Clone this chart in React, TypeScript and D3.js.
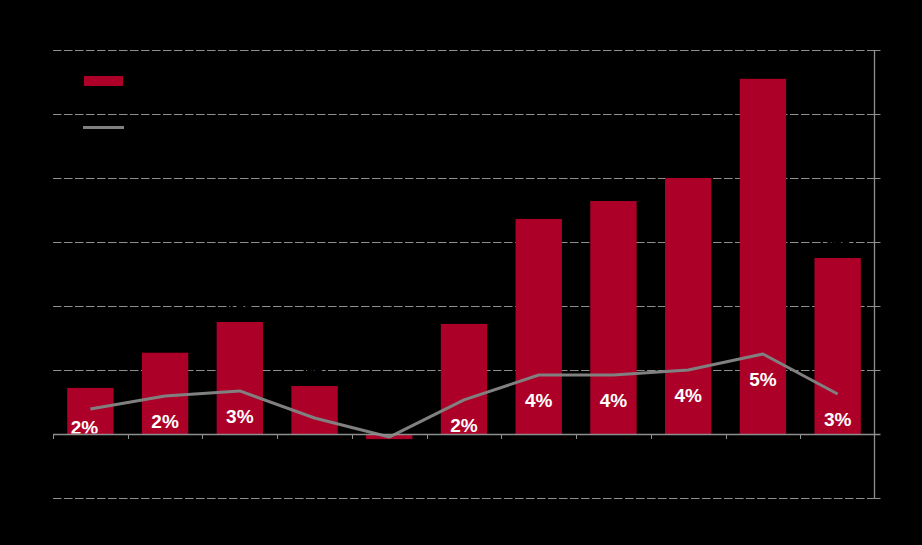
import React from "react";
import * as d3 from "d3";

const categories = ["1", "2", "3", "4", "5", "6", "7", "8", "9", "10", "11"];
const barValues = [72, 127, 175, 75, -8, 172, 336, 364, 400, 555, 275];
const lineValues = [1.56, 2.38, 2.69, 1.0, -0.19, 2.13, 3.69, 3.69, 4.0, 5.0, 2.5];
const lineLabels = ["2%", "2%", "3%", "", "", "2%", "4%", "4%", "4%", "5%", "3%"];
const leftTicks = [-100, 0, 100, 200, 300, 400, 500, 600];

const W = 922;
const H = 545;
const M = { left: 53, right: 47, top: 50, bottom: 47 };
const RED = "#ad0029";
const GRID = "#8f8f8f";
const LINE = "#808080";

export default function App() {
  const x = d3
    .scaleBand<string>()
    .domain(categories)
    .range([M.left, W - M.right])
    .paddingInner(0.38)
    .paddingOuter(0.19);
  const step = x.step();
  const bandStart = (c: string) => (x(c) as number) - step * 0.19;
  const y = d3.scaleLinear().domain([-100, 600]).range([H - M.bottom, M.top]);
  const yR = d3.scaleLinear().domain([-4, 24]).range([H - M.bottom, M.top]);
  const y0 = y(0);
  const rightX = W - M.right - 0.5;
  const cx = (c: string) => (x(c) as number) + x.bandwidth() / 2;

  const linePath = d3
    .line<number>()
    .x((_, i) => cx(categories[i]))
    .y((d) => yR(d))(lineValues) as string;

  return (
    <svg
      width={W}
      height={H}
      style={{ position: "absolute", left: 0, top: 0, display: "block" }}
    >
      <defs>
        <clipPath id="aboveZero">
          <rect x={M.left} y={M.top} width={W - M.left - M.right} height={y0 - M.top - 0.5} />
        </clipPath>
      </defs>
      <rect x={0} y={0} width={W} height={H} fill="#000" />
      {leftTicks.map((t) =>
        t === 0 ? null : (
          <g key={t}>
            <line
              x1={M.left}
              x2={rightX}
              y1={Math.round(y(t)) + 0.5}
              y2={Math.round(y(t)) + 0.5}
              stroke={GRID}
              strokeWidth={1}
              strokeDasharray="8.5,2.5"
            />
            <line
              x1={rightX}
              x2={rightX + 6}
              y1={Math.round(y(t)) + 0.5}
              y2={Math.round(y(t)) + 0.5}
              stroke={GRID}
              strokeWidth={1}
            />
            <text
              x={M.left - 6}
              y={y(t) + 4}
              textAnchor="end"
              fontSize={12}
              fontFamily="Liberation Sans, Arial, sans-serif"
              fill="#000"
            >
              {t}
            </text>
          </g>
        )
      )}
      {categories.map((c, i) => {
        const v = barValues[i];
        const top = Math.min(y(v), y0);
        const h = Math.abs(y(v) - y0);
        return (
          <rect
            key={c}
            x={x(c)}
            y={top}
            width={x.bandwidth()}
            height={h}
            fill={RED}
          />
        );
      })}
      {categories.map((c, i) => {
        const v = barValues[i];
        return (
          <text
            key={"bl" + c}
            x={cx(c)}
            y={Math.min(y(v), y0) - 6}
            textAnchor="middle"
            fontSize={15}
            fontWeight="bold"
            fontFamily="Liberation Sans, Arial, sans-serif"
            fill="#000"
          >
            {v}
          </text>
        );
      })}
      <path d={linePath} fill="none" stroke={LINE} strokeWidth={3} strokeLinejoin="round" />
      <g clipPath="url(#aboveZero)">
        {categories.map((c, i) =>
          lineLabels[i] ? (
            <text
              key={"lab" + c}
              x={cx(c) - (yR(lineValues[i]) + 32 > y0 ? 6 : 0)}
              y={Math.min(yR(lineValues[i]) + 32, y0)}
              textAnchor="middle"
              fontSize={19}
              fontWeight="bold"
              fontFamily="Liberation Sans, Arial, sans-serif"
              fill="#fff"
            >
              {lineLabels[i]}
            </text>
          ) : null
        )}
      </g>
      {/* zero axis */}
      <line
        x1={M.left}
        x2={rightX + 6}
        y1={Math.round(y0) + 0.5}
        y2={Math.round(y0) + 0.5}
        stroke={GRID}
        strokeWidth={1.3}
      />
      {categories.map((c) => (
        <line
          key={"t" + c}
          x1={Math.round(bandStart(c)) + 0.5}
          x2={Math.round(bandStart(c)) + 0.5}
          y1={y0}
          y2={y0 + 5}
          stroke={GRID}
          strokeWidth={1}
        />
      ))}
      {/* right axis */}
      <line
        x1={rightX}
        x2={rightX}
        y1={M.top}
        y2={H - M.bottom + 0.5}
        stroke={GRID}
        strokeWidth={1.3}
      />
      {/* legend */}
      <rect x={84} y={76} width={39} height={10} fill={RED} />
      <line x1={83} x2={124} y1={127.5} y2={127.5} stroke={LINE} strokeWidth={3} />
    </svg>
  );
}
